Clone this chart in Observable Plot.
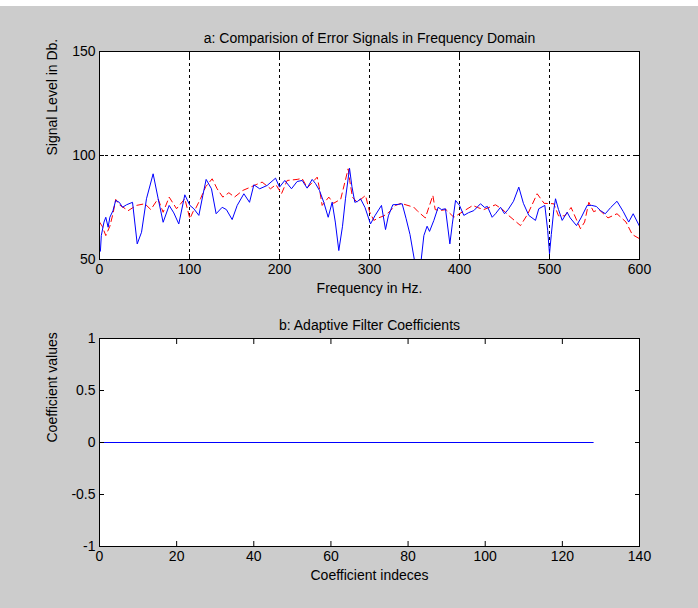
<!DOCTYPE html>
<html>
<head>
<meta charset="utf-8">
<script src="https://cdn.jsdelivr.net/npm/d3@7"></script>
<script src="https://cdn.jsdelivr.net/npm/@observablehq/plot@0.6"></script>
<style>
  html, body { margin: 0; padding: 0; background: #ffffff; }
  #wrap { position: relative; width: 698px; height: 602px; margin-top: 6px; background: #cccccc; }
  #wrap svg { display: block; }
</style>
</head>
<body>
<div id="wrap"></div>
<script>
// ---- Data ----
const titleTop = "a: Comparision of Error Signals in Frequency Domain";
const xLabelTop = "Frequency in Hz.";
const yLabelTop = "Signal Level in Db.";
const titleBottom = "b: Adaptive Filter Coefficients";
const xLabelBottom = "Coefficient indeces";
const yLabelBottom = "Coefficient values";

const xTicksTop = [0, 100, 200, 300, 400, 500, 600];
const yTicksTop = [50, 100, 150];
const xTicksBottom = [0, 20, 40, 60, 80, 100, 120, 140];
const yTicksBottom = [-1, -0.5, 0, 0.5, 1];

const freqBlue = [1, 2, 5, 7, 9.6, 11.5, 15, 18, 22, 25.6, 30, 36.7, 41.9, 46.7, 52.2, 59.6, 65.2, 70.7, 77.4, 82.6, 88.1, 94.8, 100.4, 104.8, 110.4, 114.8, 118.5, 124.4, 129.6, 136.3, 141, 147.4, 153, 160.4, 166.7, 171.5, 178, 186.3, 195.6, 200, 205.9, 213.3, 219.6, 225.2, 230.7, 236.3, 240, 244.4, 249.2, 254.1, 258.5, 262, 265.9, 270, 273.3, 277.8, 280.5, 283.7, 287, 290, 295, 301.1, 306, 313.3, 317.8, 321, 325.9, 332, 336.3, 340.7, 345, 351, 356.7, 360.4, 364, 366.7, 371.5, 376.3, 380, 384.4, 389.3, 392, 395.6, 400, 404.8, 410, 415.9, 423.3, 428, 431, 436.3, 440, 445.6, 450, 454, 460, 465.9, 471, 477, 484.4, 488.1, 494.8, 498, 500, 502, 504.8, 506.7, 510, 514.1, 519.6, 523, 530, 535, 541.9, 547, 552, 556.7, 562, 568, 575, 582, 588, 593, 600];
const levelBlue = [54, 61.5, 68, 70.3, 65.5, 70.3, 73.5, 78.4, 77.5, 75.1, 76.3, 77.5, 57.5, 63.1, 79.2, 91.2, 79.2, 67.9, 76, 72.4, 67.1, 81.1, 76, 74.4, 71.2, 80.8, 88.5, 84, 72, 75.1, 74, 69.2, 76, 81.6, 77.5, 85.9, 84, 85.6, 89.1, 84.8, 88, 84, 87.5, 88, 84.3, 88.5, 86.5, 83.2, 77.5, 70.3, 77.5, 68, 54.3, 66, 79.2, 93.9, 85, 77.5, 78, 79.2, 75, 67.1, 71, 76, 64.4, 71, 76.3, 76.5, 76.8, 69.6, 62, 47, 47, 61.5, 66, 63.5, 68.8, 75.1, 74, 74.4, 57.5, 67, 78.4, 76, 71.2, 72.5, 73.5, 76.8, 75, 75.5, 70.3, 72, 75.1, 72, 74, 78, 84.8, 77, 71.2, 68.8, 74.4, 76, 64, 52.7, 62, 74, 79.2, 74, 68.8, 72.7, 70, 66.3, 70, 76, 76, 75.5, 73.5, 72, 75, 78, 73, 68, 72, 66];

const freqRed = [0, 3, 7, 11.5, 15, 18, 22, 31.9, 41, 50.4, 57, 65, 70.7, 77.4, 85.6, 94.8, 100.4, 104, 106.7, 112.2, 118, 125.2, 130.7, 137, 143.7, 150, 159.2, 167.8, 174, 180.7, 190, 196, 202.2, 208.5, 219.6, 225, 231, 241.9, 244, 247.4, 254.8, 260, 268, 276.3, 278, 281, 286.3, 295.6, 300, 304.8, 310, 316, 321.5, 329, 335, 349.3, 354, 362, 370.4, 373, 378, 385, 393.7, 400, 414.8, 420, 427, 440, 448, 455, 467.8, 476, 486.3, 494, 504.8, 510, 517, 524, 534.4, 539, 543.7, 549, 555, 565, 575, 585, 592, 600];
const levelRed = [68, 66, 61.5, 66, 72, 78.9, 76.3, 73.5, 76, 76.8, 74, 79.2, 72.7, 80, 74.4, 79.2, 69.6, 73, 74.4, 79.2, 85, 88.8, 84, 80, 82.1, 80, 83.2, 84.8, 86, 87.2, 84, 86, 81.6, 88, 88.5, 89, 84.5, 89.6, 85, 76, 80, 77, 79, 93.6, 88, 80, 77.5, 80.8, 73, 68.8, 70, 71, 72.7, 76, 77, 75.1, 73, 70, 80.8, 74, 73.5, 74, 70.3, 72, 76, 75, 74, 76.3, 74, 71, 66.3, 72, 81.6, 77, 76.8, 71, 71, 75, 64.8, 68, 77.5, 73, 74, 70, 72, 68, 62, 60];

const coefIndex = [0, 128];
const coefValue = [0, 0];

// ---- Build tables ----
const blueData = freqBlue.map((f, i) => ({f, v: levelBlue[i]}));
const redData = freqRed.map((f, i) => ({f, v: levelRed[i]}));
const coefData = coefIndex.map((k, i) => ({k, v: coefValue[i]}));

const font = "'Liberation Sans', Arial, Helvetica, sans-serif";
const FS = 14;
const plotStyle = {fontFamily: font, fontSize: FS + "px", background: "transparent", color: "black", overflow: "visible"};
const noLabel = () => "";

const W = 698;
const ML = 99, MR = 59;

const topPlot = Plot.plot({
  width: W, height: 304,
  marginLeft: ML, marginRight: MR, marginTop: 45, marginBottom: 51,
  style: plotStyle,
  x: {domain: [0, 600]},
  y: {domain: [50, 150]},
  marks: [
    Plot.frame({fill: "white", stroke: "none"}),
    Plot.ruleX(xTicksTop.slice(1, -1), {stroke: "black", strokeWidth: 1, strokeDasharray: "3,3"}),
    Plot.ruleY(yTicksTop.slice(1, -1), {stroke: "black", strokeWidth: 1, strokeDasharray: "3,3"}),
    Plot.line(redData, {x: "f", y: "v", stroke: "red", strokeWidth: 1, strokeDasharray: "6,4", clip: true}),
    Plot.line(blueData, {x: "f", y: "v", stroke: "blue", strokeWidth: 1, clip: true}),
    Plot.frame({stroke: "black"}),
    Plot.axisX({ticks: xTicksTop, tickSize: -5, tickPadding: 10, tickFormat: d => String(d), label: null}),
    Plot.axisX({anchor: "top", ticks: xTicksTop, tickSize: -5, tickFormat: noLabel, label: null}),
    Plot.axisY({ticks: yTicksTop, tickSize: -5, tickPadding: 9, tickFormat: d => String(d), label: null}),
    Plot.axisY({anchor: "right", ticks: yTicksTop, tickSize: -5, tickFormat: noLabel, label: null}),
    Plot.text([titleTop], {frameAnchor: "top", dy: -18, text: d => d, fontSize: FS}),
    Plot.text([xLabelTop], {frameAnchor: "bottom", dy: 33, text: d => d, fontSize: FS}),
    Plot.text([yLabelTop], {frameAnchor: "left", dx: -47, rotate: -90, text: d => d, fontSize: FS})
  ]
});

const bottomPlot = Plot.plot({
  width: W, height: 298,
  marginLeft: ML, marginRight: MR, marginTop: 28, marginBottom: 62,
  style: plotStyle,
  x: {domain: [0, 140]},
  y: {domain: [-1, 1]},
  marks: [
    Plot.frame({fill: "white", stroke: "none"}),
    Plot.line(coefData, {x: "k", y: "v", stroke: "blue", strokeWidth: 1}),
    Plot.frame({stroke: "black"}),
    Plot.axisX({ticks: xTicksBottom, tickSize: -5, tickPadding: 10, tickFormat: d => String(d), label: null}),
    Plot.axisX({anchor: "top", ticks: xTicksBottom, tickSize: -5, tickFormat: noLabel, label: null}),
    Plot.axisY({ticks: yTicksBottom, tickSize: -5, tickPadding: 9, tickFormat: d => String(d), label: null}),
    Plot.axisY({anchor: "right", ticks: yTicksBottom, tickSize: -5, tickFormat: noLabel, label: null}),
    Plot.text([titleBottom], {frameAnchor: "top", dy: -18, text: d => d, fontSize: FS}),
    Plot.text([xLabelBottom], {frameAnchor: "bottom", dy: 33, text: d => d, fontSize: FS}),
    Plot.text([yLabelBottom], {frameAnchor: "left", dx: -47, rotate: -90, text: d => d, fontSize: FS})
  ]
});

const wrap = document.getElementById("wrap");
wrap.appendChild(topPlot);
wrap.appendChild(bottomPlot);
</script>
</body>
</html>
